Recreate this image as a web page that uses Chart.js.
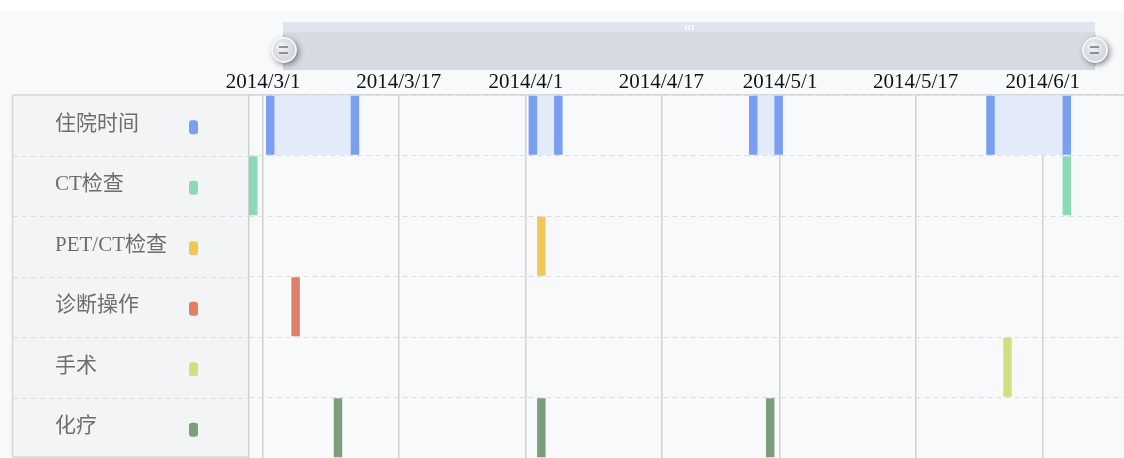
<!DOCTYPE html>
<html>
<head>
<meta charset="utf-8">
<script src="https://cdn.jsdelivr.net/npm/chart.js@4.4.1/dist/chart.umd.min.js"></script>
<style>
  html, body { margin: 0; padding: 0; background: #ffffff; }
</style>
</head>
<body>
<canvas id="timeline" width="1124" height="458"></canvas>
<script>
// rows, top to bottom
const categories = ["住院时间", "CT检查", "PET/CT检查", "诊断操作", "手术", "化疗"];
const colors = ["#7a9ef0", "#8bd9b5", "#f0c85a", "#e07f68", "#d3de80", "#7c9e7a"];

// hospital stays (admission / discharge)
const stayStart = ["2014-03-01", "2014-04-01", "2014-04-27", "2014-05-25"];
const stayEnd = ["2014-03-11", "2014-04-04", "2014-04-30", "2014-06-03"];
const ctDates = ["2014-02-27", "2014-06-03"];
const petDates = ["2014-04-02"];
const diagDates = ["2014-03-04"];
const surgeryDates = ["2014-05-27"];
const chemoDates = ["2014-03-09", "2014-04-02", "2014-04-29"];

// x axis
const tickDates = ["2014-03-01", "2014-03-17", "2014-04-01", "2014-04-17", "2014-05-01", "2014-05-17", "2014-06-01"];
const axisStart = "2014-02-27 08";
const axisEnd = "2014-06-10 14";

const DAY = 864e5;
const SHIFT = 8 * 3600e3; // events recorded at UTC midnight, shown in UTC+8

function toX(s) {
  const [date, hour] = s.split(" ");
  const [y, m, d] = date.split("-").map(Number);
  return Date.UTC(y, m - 1, d, Number(hour || 0));
}

function fmt(v) {
  const d = new Date(v);
  return d.getUTCFullYear() + "/" + (d.getUTCMonth() + 1) + "/" + d.getUTCDate();
}

const events = [stayStart.concat(stayEnd), ctDates, petDates, diagDates, surgeryDates, chemoDates];

const datasets = categories.map((name, i) => ({
  label: name,
  data: events[i].map((s) => ({ y: name, x: [toX(s) + SHIFT, toX(s) + SHIFT + DAY] })),
  backgroundColor: colors[i],
  grouped: false,
  barPercentage: 1,
  categoryPercentage: 0.975,
  order: 0,
}));

// light band for the time spent in hospital
datasets.push({
  label: "住院区间",
  data: stayStart.map((s, i) => ({ y: categories[0], x: [toX(s) + SHIFT, toX(stayEnd[i]) + SHIFT + DAY] })),
  backgroundColor: "#e3eaf9",
  grouped: false,
  barPercentage: 1,
  categoryPercentage: 0.975,
  order: 1,
});

const FONT = "'Liberation Serif', 'Noto Sans CJK SC', serif";

// background, label column and the zoom bar on top
const sidePanel = {
  id: "sidePanel",
  beforeDraw(chart) {
    const { ctx, chartArea: { top, bottom, left } } = chart;
    ctx.save();
    ctx.fillStyle = "#ffffff";
    ctx.fillRect(0, 0, chart.width, chart.height);
    ctx.fillStyle = "#f8f9fb";
    ctx.fillRect(0, 11, chart.width, chart.height - 11);
    ctx.fillStyle = "#f3f4f6";
    ctx.fillRect(13, top, left - 13, bottom - top);
    ctx.restore();
  },
  afterDraw(chart) {
    const { ctx, chartArea: { top, bottom, left }, scales: { y } } = chart;
    ctx.save();
    // column borders
    ctx.strokeStyle = "#d6d6d6";
    ctx.lineWidth = 1.5;
    ctx.beginPath();
    ctx.moveTo(12.5, top);
    ctx.lineTo(left, top);
    ctx.moveTo(12.5, top);
    ctx.lineTo(12.5, bottom - 1);
    ctx.lineTo(left, bottom - 1);
    ctx.stroke();
    // row separators
    ctx.strokeStyle = "#dddddd";
    ctx.lineWidth = 1;
    ctx.setLineDash([5, 4]);
    ctx.beginPath();
    for (let i = 0; i < categories.length - 1; i++) {
      const yy = Math.round((y.getPixelForValue(i) + y.getPixelForValue(i + 1)) / 2) + 0.5;
      ctx.moveTo(13, yy);
      ctx.lineTo(left, yy);
    }
    ctx.stroke();
    ctx.setLineDash([]);
    // labels + colour markers
    ctx.font = "21px " + FONT;
    ctx.textBaseline = "middle";
    ctx.textAlign = "left";
    categories.forEach((name, i) => {
      const cy = y.getPixelForValue(i);
      ctx.fillStyle = "#6e6e6e";
      ctx.fillText(name, 55, cy - 1);
      ctx.fillStyle = colors[i];
      ctx.beginPath();
      ctx.roundRect(189, cy - 5, 9, 14, 3);
      ctx.fill();
    });

    // zoom slider
    const x0 = 283, x1 = 1095;
    ctx.fillStyle = "#dfe4ef";
    ctx.fillRect(x0, 22, x1 - x0, 10);
    ctx.fillStyle = "#d5dae3";
    ctx.fillRect(x0, 32, x1 - x0, 38);
    ctx.fillStyle = "#ffffff";
    [685, 688.5, 692].forEach((gx) => ctx.fillRect(gx, 25, 1.5, 5));
    [x0 + 1, x1].forEach((hx) => {
      const hy = 50;
      ctx.strokeStyle = "#c3c8d0";
      ctx.lineWidth = 1.2;
      ctx.beginPath();
      ctx.moveTo(hx, hy - 16);
      ctx.lineTo(hx, hy + 16);
      ctx.stroke();
      ctx.save();
      ctx.shadowColor = "rgba(0,0,0,0.5)";
      ctx.shadowBlur = 6;
      ctx.shadowOffsetX = 2;
      ctx.shadowOffsetY = 2;
      const g = ctx.createRadialGradient(hx - 3, hy - 4, 2, hx, hy, 13);
      g.addColorStop(0, "#eef0f4");
      g.addColorStop(1, "#cdd1d8");
      ctx.fillStyle = g;
      ctx.beginPath();
      ctx.arc(hx, hy, 12.5, 0, Math.PI * 2);
      ctx.fill();
      ctx.restore();
      ctx.strokeStyle = "#f6f7f9";
      ctx.lineWidth = 1.8;
      ctx.beginPath();
      ctx.arc(hx, hy, 12, 0, Math.PI * 2);
      ctx.stroke();
      ctx.strokeStyle = "#6d7486";
      ctx.lineWidth = 1.6;
      ctx.beginPath();
      ctx.moveTo(hx - 5, hy - 3);
      ctx.lineTo(hx + 4, hy - 3);
      ctx.moveTo(hx - 5, hy + 3);
      ctx.lineTo(hx + 4, hy + 3);
      ctx.stroke();
    });
    ctx.restore();
  },
};

new Chart(document.getElementById("timeline"), {
  type: "bar",
  data: { labels: categories, datasets },
  options: {
    indexAxis: "y",
    responsive: false,
    animation: false,
    devicePixelRatio: 1,
    layout: { padding: { left: 249, top: 65, right: 0, bottom: 0 } },
    scales: {
      x: {
        type: "linear",
        position: "top",
        min: toX(axisStart),
        max: toX(axisEnd),
        afterBuildTicks(scale) {
          scale.ticks = tickDates.map((d) => ({ value: toX(d) }));
        },
        afterFit(scale) {
          scale.height = 30;
        },
        ticks: {
          autoSkip: false,
          maxRotation: 0,
          padding: 0,
          color: "#111111",
          font: { family: FONT, size: 21 },
          callback: (v) => fmt(v),
        },
        grid: { color: "#d2d2d2", lineWidth: 1.5, drawTicks: false },
        border: { display: true, color: "#d6d6d6", width: 1.5 },
      },
      y: {
        ticks: { display: false },
        grid: { color: "#dcdcdc", lineWidth: 1, drawTicks: false, offset: true },
        border: { display: true, color: "#d0d0d0", width: 1.5, dash: [5, 4] },
      },
    },
    plugins: {
      legend: { display: false },
      tooltip: { enabled: false },
    },
  },
  plugins: [sidePanel],
});
</script>
</body>
</html>
